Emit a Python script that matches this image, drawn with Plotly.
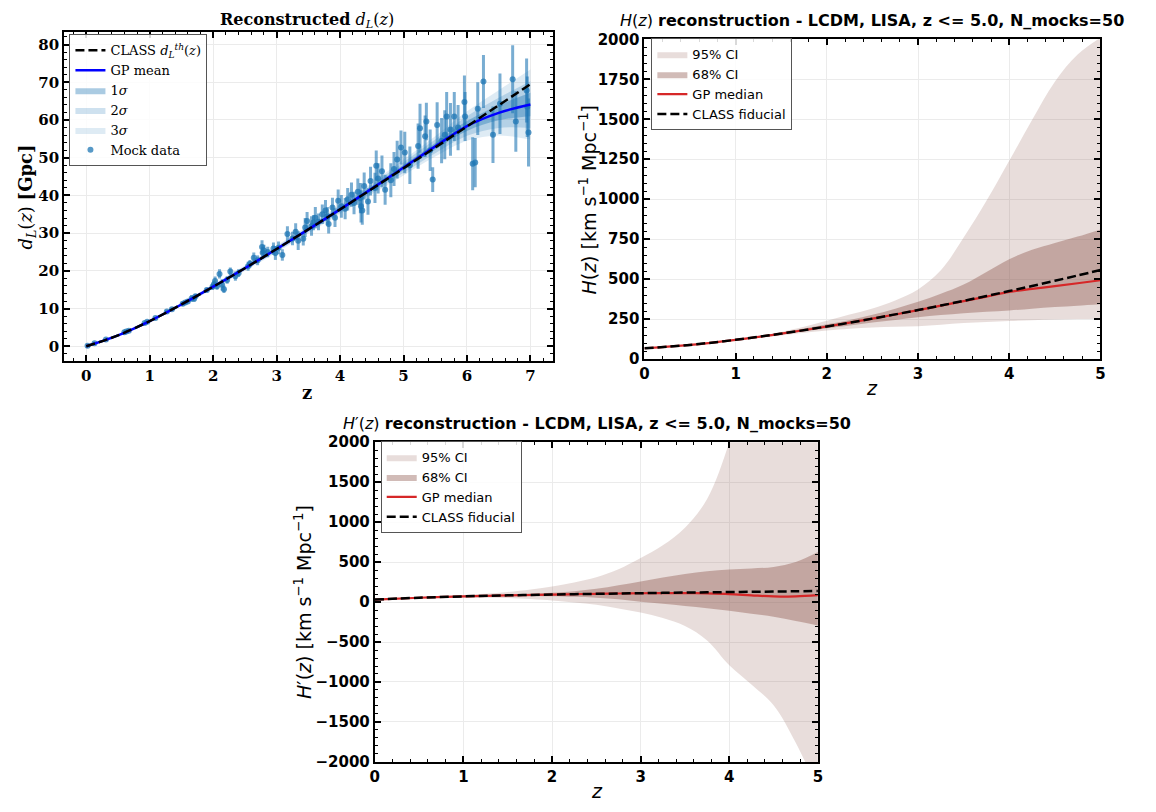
import plotly.graph_objects as go

W, H = 1156, 812
def px(x): return x / W
def py(y): return 1 - y / H

# ---------------- Panel 1 data: luminosity distance ----------------
z_gp = [0.0, 0.5, 1.0, 1.5, 2.0, 2.5, 3.0, 3.5, 4.0, 4.5, 5.0, 5.5, 6.0, 6.5, 7.0]
dl_class = [0.0, 2.9, 6.7, 11.1, 15.8, 20.7, 25.8, 31.0, 36.3, 41.7, 47.2, 52.7, 58.3, 63.9, 69.5]
dl_gp_mean = [0.0, 2.9, 6.7, 11.1, 15.8, 20.7, 25.8, 31.0, 36.3, 41.8, 47.4, 53.0, 58.4, 61.9, 64.1]
dl_gp_sigma = [0.05, 0.08, 0.1, 0.15, 0.2, 0.25, 0.3, 0.35, 0.4, 0.5, 0.7, 0.9, 1.3, 2.0, 3.1]

z_mock = [0.02, 0.13, 0.31, 0.60, 0.63, 0.67, 0.92, 0.96, 1.09, 1.27, 1.35, 1.52, 1.56, 1.60,
          1.66, 1.70, 1.72, 1.90, 1.99, 2.01, 2.03, 2.06, 2.10, 2.14, 2.17, 2.22, 2.27, 2.35,
          2.40, 2.55, 2.58, 2.64, 2.70, 2.77, 2.78, 2.80, 2.86, 2.95, 2.98, 3.03, 3.09, 3.17,
          3.25, 3.30, 3.34, 3.42, 3.45, 3.48, 3.55, 3.58, 3.61, 3.66, 3.72, 3.77, 3.80, 3.82,
          3.88, 3.92, 3.97, 4.02, 4.08, 4.12, 4.18, 4.22, 4.28, 4.32, 4.33, 4.35, 4.38, 4.44,
          4.48, 4.55, 4.57, 4.60, 4.66, 4.71, 4.80, 4.85, 4.90, 4.96, 5.02, 5.10, 5.23, 5.26,
          5.34, 5.36, 5.42, 5.46, 5.53, 5.60, 5.65, 5.68, 5.74, 5.80, 5.86, 5.96, 5.97, 6.09,
          6.13, 6.17, 6.26, 6.41, 6.52, 6.72, 6.77, 6.94, 6.95, 6.97]
dl_mock = [0.15, 0.8, 1.8, 3.7, 3.9, 4.1, 6.2, 6.5, 7.5, 9.2, 9.8, 11.3, 11.6, 11.9,
           12.7, 12.6, 13.3, 14.9, 15.8, 16.4, 17.3, 15.9, 19.2, 16.3, 15.1, 17.6, 19.8, 18.6,
           19.4, 21.2, 21.9, 23.5, 22.8, 26.3, 24.8, 25.4, 25.0, 25.9, 24.7, 26.1, 24.2, 29.8,
           28.6, 30.4, 28.0, 28.5, 31.5, 33.2, 31.9, 32.8, 34.1, 33.0, 35.0, 36.0, 34.5, 32.4,
           36.8, 34.1, 38.6, 37.1, 36.5, 39.0, 40.2, 38.0, 41.0, 39.3, 37.1, 36.0, 42.5, 38.4,
           43.8, 42.0, 47.9, 44.5, 46.4, 41.5, 44.0, 47.0, 49.5, 52.7, 51.4, 48.0, 53.1, 57.8,
           55.7, 59.6, 52.0, 44.2, 58.7, 54.5, 56.1, 60.9, 57.5, 60.9, 58.0, 64.8, 60.9, 48.4,
           48.7, 63.0, 70.2, 56.1, 64.3, 70.8, 59.6, 67.8, 63.5, 56.7]
dl_err = [0.1, 0.1, 0.15, 0.2, 0.2, 0.3, 0.3, 0.3, 0.3, 0.4, 0.4, 0.5, 0.5, 0.5,
          0.9, 0.8, 0.6, 0.6, 0.8, 1.0, 1.2, 0.9, 1.2, 1.5, 1.0, 1.0, 1.1, 1.2,
          1.0, 1.2, 1.0, 1.4, 1.3, 1.8, 1.6, 1.5, 1.4, 1.6, 1.8, 1.7, 1.5, 2.0,
          1.8, 2.2, 2.5, 1.8, 2.5, 2.4, 2.6, 2.0, 2.8, 2.2, 2.6, 2.8, 2.4, 2.5,
          2.6, 2.5, 3.0, 3.0, 2.8, 3.0, 3.2, 3.0, 3.5, 4.0, 4.3, 3.8, 3.6, 3.5,
          3.8, 4.0, 4.0, 4.0, 4.2, 4.0, 4.5, 4.5, 5.0, 4.5, 5.5, 5.0, 6.0, 6.5,
          5.5, 5.0, 5.5, 3.3, 6.0, 6.0, 6.5, 6.5, 7.0, 6.5, 6.0, 7.0, 6.5, 7.0,
          6.5, 7.0, 7.0, 7.5, 8.0, 9.0, 8.0, 8.5, 8.0, 9.0]

# ---------------- Panel 2 / 3 data ----------------
z_h = [0.0, 0.5, 1.0, 1.5, 2.0, 2.25, 2.5, 2.75, 3.0, 3.25, 3.5, 3.75, 4.0, 4.25, 4.5, 4.75, 5.0]
h_class = [67.7, 88.7, 120.5, 159.2, 203.8, 227.9, 253.1, 279.5, 306.7, 335.0, 364.2, 394.2,
           425.2, 456.9, 489.5, 522.8, 556.8]
h_median = [67.7, 88.7, 120.5, 159.2, 203.8, 227.9, 253.0, 279.0, 306.0, 334.0, 362.0, 391.0,
            420.0, 439.0, 456.0, 474.0, 493.0]
h_68_lo = [67.0, 88.0, 119.0, 153.0, 192.0, 210.0, 228.0, 245.0, 262.0, 275.0, 287.0, 296.0,
           304.0, 315.0, 325.0, 334.0, 343.0]
h_68_hi = [68.5, 89.5, 122.0, 165.0, 217.0, 245.0, 277.0, 315.0, 358.0, 408.0, 466.0, 545.0,
           625.0, 683.0, 726.0, 766.0, 811.0]
h_95_lo = [66.0, 87.0, 116.0, 148.0, 178.0, 190.0, 198.0, 202.0, 205.0, 215.0, 225.0, 232.0,
           238.0, 243.0, 247.0, 250.0, 252.0]
h_95_hi = [69.0, 91.0, 125.0, 170.0, 240.0, 278.0, 316.0, 366.0, 435.0, 555.0, 760.0, 990.0,
           1240.0, 1495.0, 1735.0, 1905.0, 2010.0]

dh_class = [31.5, 53.8, 70.7, 83.7, 94.1, 98.8, 103.1, 107.2, 111.2, 114.9, 118.5, 122.0,
            125.3, 128.6, 131.7, 134.8, 137.8]
dh_median = [31.5, 53.8, 70.7, 83.7, 94.1, 98.8, 103.1, 107.0, 110.0, 112.0, 112.0, 108.0,
             100.0, 84.0, 70.0, 72.0, 86.0]
dh_68_lo = [28.0, 50.0, 65.0, 75.0, 72.0, 65.0, 55.0, 35.0, 5.0, -22.0, -50.0, -78.0,
            -108.0, -145.0, -185.0, -238.0, -293.0]
dh_68_hi = [35.0, 58.0, 76.0, 92.0, 115.0, 135.0, 165.0, 210.0, 258.0, 308.0, 352.0, 385.0,
            406.0, 420.0, 440.0, 500.0, 625.0]
dh_95_lo = [25.0, 46.0, 55.0, 50.0, 20.0, -5.0, -35.0, -80.0, -130.0, -200.0, -300.0, -480.0,
            -790.0, -1030.0, -1290.0, -1760.0, -2350.0]
dh_95_hi = [38.0, 62.0, 88.0, 125.0, 195.0, 245.0, 310.0, 410.0, 550.0, 710.0, 930.0, 1290.0,
            2000.0, 3000.0, 3900.0, 4700.0, 5500.0]

# ---------------- styles ----------------
BLUE = '31,119,180'
BROWN = '140,86,75'
RED = 'rgb(214,39,40)'
DASH = '9px,4px'

fig = go.Figure()

# Panel 1 bands
for k, alpha, name, rank in [(3, 0.15, '3<i>σ</i>', 5), (2, 0.22, '2<i>σ</i>', 4), (1, 0.38, '1<i>σ</i>', 3)]:
    lo = [m - k * s for m, s in zip(dl_gp_mean, dl_gp_sigma)]
    hi = [m + k * s for m, s in zip(dl_gp_mean, dl_gp_sigma)]
    fig.add_trace(go.Scatter(x=z_gp, y=lo, mode='lines', line=dict(width=0, shape='spline'),
                             showlegend=False, hoverinfo='skip', xaxis='x', yaxis='y'))
    fig.add_trace(go.Scatter(x=z_gp, y=hi, mode='lines', line=dict(width=0, shape='spline'),
                             fill='tonexty', fillcolor=f'rgba({BLUE},{alpha})', name=name,
                             legend='legend', legendrank=rank, xaxis='x', yaxis='y'))

fig.add_trace(go.Scatter(x=z_mock, y=dl_mock, mode='markers', name='Mock data',
                         marker=dict(size=6, color=f'rgba({BLUE},0.75)'),
                         error_y=dict(type='data', array=dl_err, color=f'rgba({BLUE},0.6)',
                                      thickness=3, width=0),
                         legend='legend', legendrank=6, xaxis='x', yaxis='y'))
fig.add_trace(go.Scatter(x=z_gp, y=dl_gp_mean, mode='lines', name='GP mean',
                         line=dict(color='#0000ff', width=2.5, shape='spline'),
                         legend='legend', legendrank=2, xaxis='x', yaxis='y'))
fig.add_trace(go.Scatter(x=z_gp, y=dl_class, mode='lines',
                         name='CLASS <i>d</i><sub><i>L</i></sub><sup><i>th</i></sup>(<i>z</i>)',
                         line=dict(color='black', width=2.5, dash=DASH, shape='spline'),
                         legend='legend', legendrank=1, xaxis='x', yaxis='y'))

# Panels 2 and 3
def ci_panel(xa, ya, leg, lo95, hi95, lo68, hi68, med, fid):
    fig.add_trace(go.Scatter(x=z_h, y=lo95, mode='lines', line=dict(width=0, shape='spline'),
                             showlegend=False, hoverinfo='skip', xaxis=xa, yaxis=ya))
    fig.add_trace(go.Scatter(x=z_h, y=hi95, mode='lines', line=dict(width=0, shape='spline'),
                             fill='tonexty', fillcolor=f'rgba({BROWN},0.2)', name='95% CI',
                             legend=leg, legendrank=1, xaxis=xa, yaxis=ya))
    fig.add_trace(go.Scatter(x=z_h, y=lo68, mode='lines', line=dict(width=0, shape='spline'),
                             showlegend=False, hoverinfo='skip', xaxis=xa, yaxis=ya))
    fig.add_trace(go.Scatter(x=z_h, y=hi68, mode='lines', line=dict(width=0, shape='spline'),
                             fill='tonexty', fillcolor=f'rgba({BROWN},0.4)', name='68% CI',
                             legend=leg, legendrank=2, xaxis=xa, yaxis=ya))
    fig.add_trace(go.Scatter(x=z_h, y=med, mode='lines', name='GP median',
                             line=dict(color=RED, width=2.2, shape='spline'),
                             legend=leg, legendrank=3, xaxis=xa, yaxis=ya))
    fig.add_trace(go.Scatter(x=z_h, y=fid, mode='lines', name='CLASS fiducial',
                             line=dict(color='black', width=2.5, dash=DASH, shape='spline'),
                             legend=leg, legendrank=4, xaxis=xa, yaxis=ya))

ci_panel('x2', 'y2', 'legend2', h_95_lo, h_95_hi, h_68_lo, h_68_hi, h_median, h_class)
ci_panel('x3', 'y3', 'legend3', dh_95_lo, dh_95_hi, dh_68_lo, dh_68_hi, dh_median, dh_class)

# ---------------- axes ----------------
def ax(tickfont, minor_dtick, **kw):
    d = dict(showline=True, linecolor='black', linewidth=2, mirror='allticks',
             ticks='inside', ticklen=6, tickwidth=1.5, tickcolor='black',
             showgrid=True, gridcolor='#ebebeb', gridwidth=1, zeroline=False,
             tickfont=tickfont,
             minor=dict(ticks='inside', ticklen=3, tickwidth=1, tickcolor='black',
                        dtick=minor_dtick, showgrid=False))
    d.update(kw)
    return d

serif_tf = dict(family='DejaVu Serif', size=15, color='black', weight='bold')
sans_tf = dict(family='DejaVu Sans', size=15, color='black', weight='bold')

leg_common = dict(xanchor='left', yanchor='top', bgcolor='rgba(255,255,255,0.85)',
                  bordercolor='#555', borderwidth=1, tracegroupgap=0, itemwidth=30,
                  traceorder='normal')

fig.update_layout(
    width=W, height=H, margin=dict(l=0, r=0, t=0, b=0),
    paper_bgcolor='white', plot_bgcolor='white',
    xaxis=ax(serif_tf, 0.2, domain=[px(59.6), px(552.4)], anchor='y', range=[-0.35, 7.35], dtick=1, tick0=0),
    yaxis=ax(serif_tf, 2, domain=[py(360), py(24)], anchor='x', range=[-3.9, 83.2], dtick=10, tick0=0),
    xaxis2=ax(sans_tf, 0.2, domain=[px(645), px(1105)], anchor='y2', range=[0, 5], dtick=1, tick0=0),
    yaxis2=ax(sans_tf, 50, domain=[py(358), py(31)], anchor='x2', range=[0, 2000], dtick=250, tick0=0),
    xaxis3=ax(sans_tf, 0.2, domain=[px(373), px(820)], anchor='y3', range=[0, 5], dtick=1, tick0=0),
    yaxis3=ax(sans_tf, 100, domain=[py(770), py(443)], anchor='x3', range=[-2000, 2000], dtick=500, tick0=0),
    legend=dict(x=px(65), y=py(26), font=dict(family='DejaVu Serif', size=13, color='black'), **leg_common),
    legend2=dict(x=px(652), y=py(30), font=dict(family='DejaVu Sans', size=13, color='black'), **leg_common),
    legend3=dict(x=px(379), y=py(442), font=dict(family='DejaVu Sans', size=13, color='black'), **leg_common),
)

# ---------------- titles and labels ----------------
def ann(x, y, text, size, family, angle=0):
    fig.add_annotation(x=px(x), y=py(y), xref='paper', yref='paper', text=text, showarrow=False,
                       xanchor='center', yanchor='middle', textangle=angle,
                       font=dict(size=size, family=family, color='black'))

ann(305, 12, '<b>Reconstructed</b> <i>d</i><sub><i>L</i></sub>(<i>z</i>)', 16, 'DejaVu Serif')
ann(875, 12, '<i>H</i>(<i>z</i>) <b>reconstruction - LCDM, LISA, z &lt;= 5.0, N_mocks=50</b>', 16, 'DejaVu Sans')
ann(597, 424, '<i>H</i>′(<i>z</i>) <b>reconstruction - LCDM, LISA, z &lt;= 5.0, N_mocks=50</b>', 16, 'DejaVu Sans')

ann(22, 192, '<i>d</i><sub><i>L</i></sub>(<i>z</i>) <b>[Gpc]</b>', 18, 'DejaVu Serif', -90)
ann(305, 392, '<b>z</b>', 18, 'DejaVu Serif')

ann(588, 195, '<i>H</i>(<i>z</i>) [km s<sup>−1</sup> Mpc<sup>−1</sup>]', 19, 'DejaVu Sans', -90)
ann(875, 388, '<i>z</i>', 19, 'DejaVu Sans')

ann(300, 606, '<i>H</i>′(<i>z</i>) [km s<sup>−1</sup> Mpc<sup>−1</sup>]', 19, 'DejaVu Sans', -90)
ann(597, 800, '<i>z</i>', 19, 'DejaVu Sans')

fig.write_html('out.html')
